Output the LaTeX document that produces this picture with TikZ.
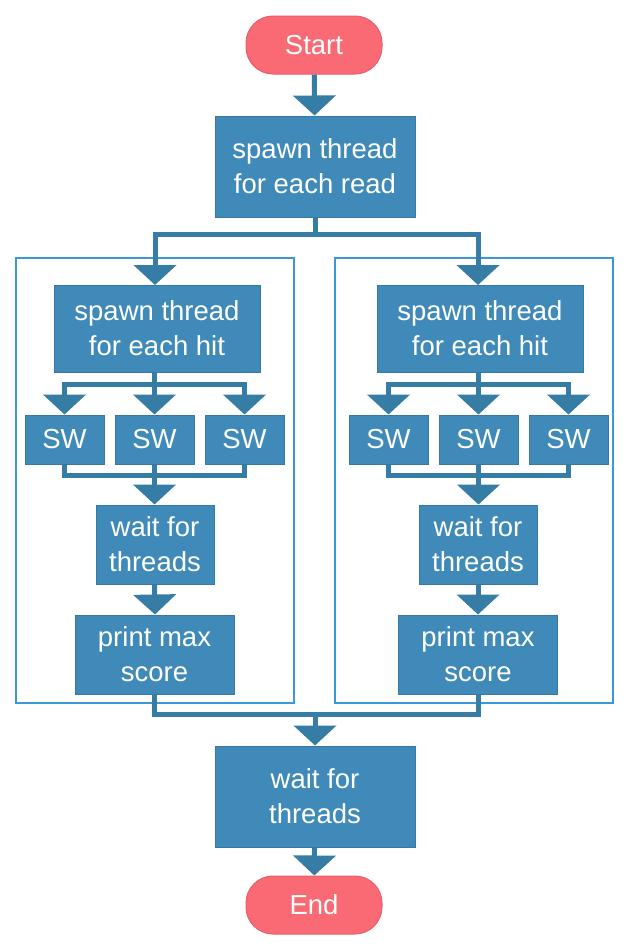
\documentclass[tikz,border=0pt]{standalone}
\usepackage{fontspec}
\setmainfont{Liberation Sans}
\usepackage{xcolor}
\usetikzlibrary{arrows.meta}

\definecolor{boxblue}{HTML}{3F8AB8}
\definecolor{boxedge}{HTML}{3779A3}
\definecolor{linkblue}{HTML}{367DA6}
\definecolor{termred}{HTML}{F96A74}
\definecolor{termedge}{HTML}{E5606B}
\definecolor{frameblue}{HTML}{3A98D6}

\begin{document}
\begin{tikzpicture}[x=1pt,y=-1pt,
    proc/.style={draw=boxedge, fill=boxblue, text=white, line width=1pt, align=center, inner sep=0pt, font=\fontsize{27.5}{35}\selectfont},
    term/.style={draw=termedge, fill=termred, text=white, line width=1pt, rounded corners=27pt, minimum width=136pt, minimum height=58pt, inner sep=0pt, font=\fontsize{27.5}{35}\selectfont},
    link/.style={draw=linkblue, line width=5pt, -{Triangle[width=42pt,length=20pt]}},
    trunk/.style={draw=linkblue, line width=5pt},
    branchframe/.style={draw=frameblue, line width=1.5pt, minimum width=278pt, minimum height=445pt}]

    \useasboundingbox (0,0) rectangle (628,946);

    % Frames round the two branches
    \node[branchframe] (boxL) at (155,480.5) {};
    \node[branchframe] (boxR) at (474,480.5) {};

    % Top
    \node[term] (start) at (314,45) {Start};
    \node[proc, minimum width=200pt, minimum height=101pt] (read) at (315,166.5) {spawn thread\\for each read};

    % Left branch
    \node[proc, minimum width=206pt, minimum height=87pt] (hitL) at (157,328.5) {spawn thread\\for each hit};
    \node[proc, minimum width=79pt, minimum height=49pt] (swLa) at (64.5,439.5) {SW};
    \node[proc, minimum width=79pt, minimum height=49pt] (swLb) at (154.5,439.5) {SW};
    \node[proc, minimum width=79pt, minimum height=49pt] (swLc) at (244.5,439.5) {SW};
    \node[proc, minimum width=118pt, minimum height=79pt] (waitL) at (155,544.5) {wait for\\threads};
    \node[proc, minimum width=159pt, minimum height=79pt] (printL) at (154.5,654.5) {print max\\score};

    % Right branch
    \node[proc, minimum width=206pt, minimum height=87pt] (hitR) at (480,328.5) {spawn thread\\for each hit};
    \node[proc, minimum width=79pt, minimum height=49pt] (swRa) at (388.5,439.5) {SW};
    \node[proc, minimum width=79pt, minimum height=49pt] (swRb) at (478.5,439.5) {SW};
    \node[proc, minimum width=79pt, minimum height=49pt] (swRc) at (568.5,439.5) {SW};
    \node[proc, minimum width=118pt, minimum height=79pt] (waitR) at (478,544.5) {wait for\\threads};
    \node[proc, minimum width=159pt, minimum height=79pt] (printR) at (478,654.5) {print max\\score};

    % Bottom
    \node[proc, minimum width=200pt, minimum height=101pt] (waitAll) at (315,796.5) {wait for\\threads};
    \node[term] (finish) at (314,905) {End};

    % Split into the two branches
    \draw[link] (start) -- (read);
    \draw[trunk] (read.south) -- ++(0,17) coordinate (splitTop);
    \draw[link] (splitTop) -| (155,285);
    \draw[link] (splitTop) -| (478,285);

    % Left branch connectors
    \draw[trunk] (hitL.south -| swLb.north) -- ++(0,12) coordinate (fanL);
    \draw[link] (fanL) -| (swLa.north);
    \draw[link] (fanL) -- (swLb.north);
    \draw[link] (fanL) -| (swLc.north);
    \coordinate (mergeL) at (154.5,475);
    \draw[trunk] (swLa.south) |- (mergeL);
    \draw[trunk] (swLc.south) |- (mergeL);
    \draw[link] (swLb.south) -- (swLb.south |- waitL.north);
    \draw[link] (waitL.south -| swLb.south) -- (waitL.south |- printL.north);

    % Right branch connectors
    \draw[trunk] (hitR.south -| swRb.north) -- ++(0,12) coordinate (fanR);
    \draw[link] (fanR) -| (swRa.north);
    \draw[link] (fanR) -- (swRb.north);
    \draw[link] (fanR) -| (swRc.north);
    \coordinate (mergeR) at (478.5,475);
    \draw[trunk] (swRa.south) |- (mergeR);
    \draw[trunk] (swRc.south) |- (mergeR);
    \draw[link] (swRb.south) -- (swRb.south |- waitR.north);
    \draw[link] (waitR) -- (printR);

    % Join the branches
    \coordinate (mergeAll) at (315,714);
    \draw[trunk] (printL.south) |- (mergeAll);
    \draw[trunk] (printR.south) |- (mergeAll);
    \draw[link] (mergeAll) -- (waitAll);
    \draw[link] (waitAll) -- (finish);
\end{tikzpicture}
\end{document}
